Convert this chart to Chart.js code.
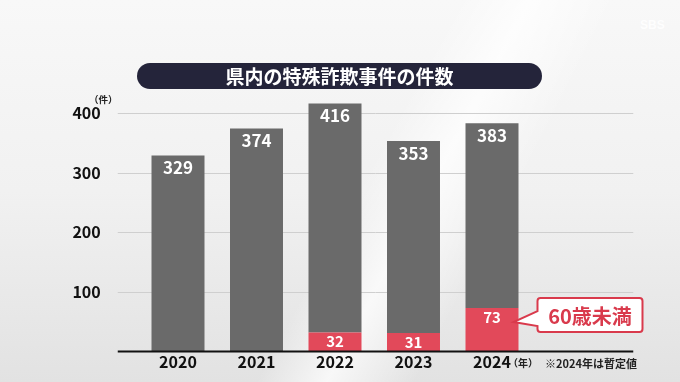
<!DOCTYPE html>
<html lang="ja">
<head>
<meta charset="utf-8">
<script src="https://cdn.jsdelivr.net/npm/chart.js@4"></script>
<style>
html, body { margin: 0; padding: 0; }
body {
  width: 680px; height: 382px; overflow: hidden; position: relative;
  font-family: "Noto Sans CJK JP", sans-serif;
  background:
    linear-gradient(118deg, rgba(255,255,255,0) 52%, rgba(255,255,255,0.75) 60%, rgba(255,255,255,0) 70%),
    linear-gradient(180deg, #f8f8f8 0%, #f1f1f1 50%, #e2e2e2 100%);
}
#chart { position: absolute; left: 0; top: 0; }
.title {
  position: absolute; left: 137px; top: 63px; width: 405px; height: 26px;
  border-radius: 13px; background: #24243a; color: #fff;
  font-weight: bold; font-size: 19px; line-height: 26px; text-align: center;
}
.unit { position: absolute; font-weight: bold; color: #222; white-space: nowrap; }
.logo { position: absolute; left: 640px; top: 18px; color: #fff; font-family: "Liberation Sans", sans-serif;
  font-weight: bold; font-size: 12px; opacity: 0.9; }
</style>
</head>
<body>
<div class="logo">SBS</div>
<canvas id="chart" width="680" height="382"></canvas>
<div class="title">県内の特殊詐欺事件の件数</div>
<div class="unit" style="left:89px;top:92px;font-size:9.5px;">（件）</div>
<div class="unit" style="left:508px;top:355px;font-size:10px;">（年）</div>
<div class="unit" style="left:545px;top:355px;font-size:11px;">※2024年は暫定値</div>
<script>
// 年別の件数（2024年は暫定値）
const years = ['2020', '2021', '2022', '2023', '2024'];
const totalCases = [329, 374, 416, 353, 383];
const under60 = [null, null, 32, 31, 73];
const yTicks = [100, 200, 300, 400];

const GRAY = '#6a6a6a';
const RED = '#e2495a';
const NUM_FONT = '"Noto Sans CJK JP", sans-serif';

const restCases = totalCases.map((t, i) => t - (under60[i] || 0));

const overlay = {
  id: 'overlay',
  beforeDatasetsDraw(chart) {
    const { ctx, chartArea, scales: { y } } = chart;
    ctx.save();
    ctx.strokeStyle = '#cfcfcf';
    ctx.lineWidth = 1;
    yTicks.forEach(v => {
      const py = Math.round(y.getPixelForValue(v)) + 0.5;
      ctx.beginPath();
      ctx.moveTo(chartArea.left - 21, py);
      ctx.lineTo(chartArea.right + 102, py);
      ctx.stroke();
    });
    ctx.restore();
  },
  afterDatasetsDraw(chart) {
    const { ctx, chartArea, scales: { y } } = chart;
    ctx.save();
    // base line
    const by = y.getPixelForValue(0);
    ctx.strokeStyle = '#111';
    ctx.lineWidth = 2;
    ctx.beginPath();
    ctx.moveTo(chartArea.left - 21, by);
    ctx.lineTo(chartArea.right + 102, by);
    ctx.stroke();

    ctx.fillStyle = '#fff';
    ctx.textAlign = 'center';
    ctx.textBaseline = 'middle';
    ctx.font = 'bold 17px ' + NUM_FONT;
    chart.getDatasetMeta(1).data.forEach((el, i) => {
      ctx.fillText(totalCases[i], el.x, el.y + 12);
    });
    ctx.font = 'bold 15px ' + NUM_FONT;
    const redMeta = chart.getDatasetMeta(0);
    redMeta.data.forEach((el, i) => {
      if (under60[i] == null) return;
      ctx.fillText(under60[i], el.x, el.y + 9);
    });

    // callout on the last red bar
    const el = redMeta.data[4];
    const right = el.x + el.width / 2;
    const bx = right + 19, bt = el.y - 10, bw = 105, bh = 34;
    ctx.beginPath();
    ctx.moveTo(bx + 3, bt);
    ctx.lineTo(bx + bw - 3, bt);
    ctx.quadraticCurveTo(bx + bw, bt, bx + bw, bt + 3);
    ctx.lineTo(bx + bw, bt + bh - 3);
    ctx.quadraticCurveTo(bx + bw, bt + bh, bx + bw - 3, bt + bh);
    ctx.lineTo(bx + 3, bt + bh);
    ctx.quadraticCurveTo(bx, bt + bh, bx, bt + bh - 3);
    ctx.lineTo(bx, bt + 28);
    ctx.lineTo(right - 5, el.y + 14);
    ctx.lineTo(bx, bt + 13);
    ctx.lineTo(bx, bt + 3);
    ctx.quadraticCurveTo(bx, bt, bx + 3, bt);
    ctx.closePath();
    ctx.fillStyle = '#fff';
    ctx.fill();
    ctx.strokeStyle = '#d93a4c';
    ctx.lineWidth = 2;
    ctx.stroke();
    ctx.fillStyle = '#d93a4c';
    ctx.font = 'bold 20px ' + NUM_FONT;
    ctx.fillText('60歳未満', bx + bw / 2, bt + bh / 2 + 1);
    ctx.restore();
  }
};

new Chart(document.getElementById('chart'), {
  type: 'bar',
  data: {
    labels: years,
    datasets: [
      { label: '60歳未満', data: under60, backgroundColor: RED },
      { label: '60歳以上', data: restCases, backgroundColor: GRAY }
    ]
  },
  options: {
    responsive: false,
    animation: false,
    layout: { padding: { left: 0, right: 148.75, top: 101.1, bottom: 0 } },
    datasets: { bar: { categoryPercentage: 1, barPercentage: 0.675 } },
    plugins: { legend: { display: false }, tooltip: { enabled: false } },
    scales: {
      x: {
        stacked: true,
        grid: { display: false },
        border: { display: false },
        ticks: { color: '#111', padding: -7, font: { family: NUM_FONT, size: 16, weight: 'bold' } },
        afterFit(s) { s.height = 30.4; s.paddingLeft = 0; s.paddingRight = 0; }
      },
      y: {
        stacked: true,
        min: 0,
        max: 420,
        grid: { display: false },
        border: { display: false },
        ticks: {
          padding: 30,
          color: '#111',
          font: { family: NUM_FONT, size: 16, weight: 'bold' }
        },
        afterBuildTicks(s) { s.ticks = yTicks.map(v => ({ value: v })); },
        afterFit(s) { s.width = 138.75; s.paddingTop = 0; s.paddingBottom = 0; }
      }
    }
  },
  plugins: [overlay]
});
</script>
</body>
</html>
